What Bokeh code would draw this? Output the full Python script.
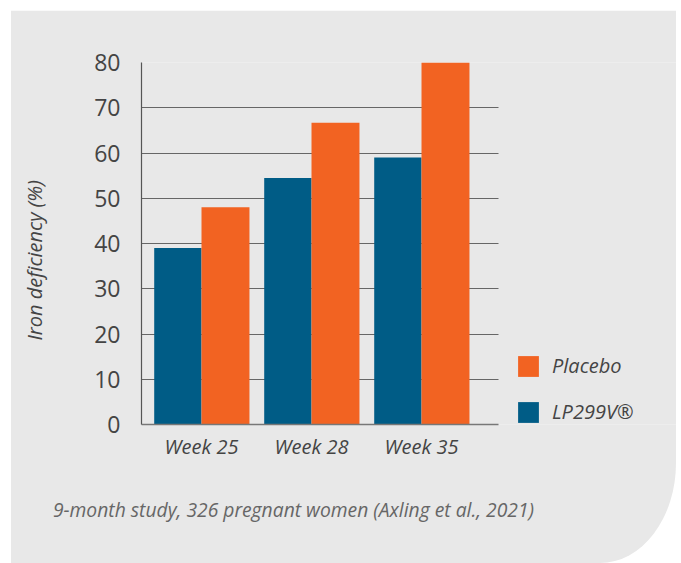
from bokeh.plotting import figure
from bokeh.models import (ColumnDataSource, Range1d, FixedTicker, Legend, LegendItem,
                          LinearAxis, Grid)
from bokeh.transform import dodge
from bokeh.embed import file_html
from bokeh.resources import INLINE
import math

# ---- data ----
weeks = ["Week 25", "Week 28", "Week 35"]
lp299v = [39, 54.5, 59]
placebo = [48, 66.7, 80]
y_ticks = [0, 10, 20, 30, 40, 50, 60, 70, 80]
series_names = ["Placebo", "LP299V®"]
y_label = "Iron deficiency (%)"
caption = "9-month study, 326 pregnant women (Axling et al., 2021)"

BLUE = "#005C86"
ORANGE = "#F26322"
BG = "#E8E8E8"
TXT = "#444444"
FONT = "Open Sans"

X_START, X_AXIS_END, X_END = 0.4545, 3.7, 5.318

xpos = list(range(1, len(weeks) + 1))
src = ColumnDataSource(dict(x=xpos, lp=lp299v, pl=placebo))

p = figure(width=673, height=553, output_backend="svg", toolbar_location=None,
           x_range=Range1d(X_START, X_END), y_range=Range1d(0, 80),
           min_border_left=138, min_border_right=0, min_border_top=52,
           min_border_bottom=139)
p.styles = {"position": "relative", "left": "3px", "top": "10px",
            "border-bottom-right-radius": "76px 100px", "overflow": "hidden",
            "clip-path": "inset(0px 0px 0px 8px)"}
p.background_fill_color = BG
p.border_fill_color = BG
p.outline_line_color = None

# horizontal grid lines, limited to the chart part of the frame
grid_ticks = y_ticks[1:-1]
p.xgrid.grid_line_color = None
if "cross_bounds" in Grid.properties():
    p.ygrid.ticker = FixedTicker(ticks=grid_ticks)
    p.ygrid.cross_bounds = (X_START, X_AXIS_END)
    p.ygrid.grid_line_color = "#666666"
    p.ygrid.grid_line_width = 1.2
else:
    p.ygrid.grid_line_color = None
    p.segment(x0=X_START, x1=X_AXIS_END, y0=grid_ticks, y1=grid_ticks,
              line_color="#666666", line_width=1.2)

r_lp = p.vbar(x=dodge("x", -0.215, range=p.x_range), top="lp", width=0.43,
              source=src, fill_color=BLUE, line_color=None)
r_pl = p.vbar(x=dodge("x", 0.218, range=p.x_range), top="pl", width=0.436,
              source=src, fill_color=ORANGE, line_color=None)

# axes
for ax in (p.xaxis[0], p.yaxis[0]):
    ax.major_tick_out = 0
    ax.major_tick_in = 0
    ax.minor_tick_out = 0
    ax.minor_tick_in = 0
    ax.major_tick_line_color = None
    ax.minor_tick_line_color = None

p.xaxis.ticker = FixedTicker(ticks=xpos)
p.xaxis.bounds = (X_START, X_AXIS_END)
p.xaxis.major_label_overrides = {i: w for i, w in zip(xpos, weeks)}
p.xaxis.major_label_text_font = FONT
p.xaxis.major_label_text_font_style = "italic"
p.xaxis.major_label_text_font_size = "20px"
p.xaxis.major_label_text_color = TXT
p.xaxis.major_label_standoff = 8
p.xaxis.axis_line_color = "#777777"
p.xaxis.axis_line_width = 1.5

p.yaxis.ticker = FixedTicker(ticks=y_ticks)
p.yaxis.major_label_text_font = FONT
p.yaxis.major_label_text_font_size = "23px"
p.yaxis.major_label_text_color = TXT
p.yaxis.major_label_standoff = 21
p.yaxis.axis_line_color = "#555555"
p.yaxis.axis_line_width = 1.2

# y label: a single rotated tick label on an extra, line-less axis
ylab_at = 54
ylab_axis = LinearAxis(ticker=FixedTicker(ticks=[ylab_at]),
                       major_label_overrides={ylab_at: y_label},
                       major_label_orientation=math.pi / 2,
                       major_label_standoff=57,
                       major_label_text_font=FONT,
                       major_label_text_font_style="italic",
                       major_label_text_font_size="20px",
                       major_label_text_color=TXT,
                       axis_line_color=None, major_tick_line_color=None,
                       minor_tick_line_color=None, major_tick_out=0,
                       minor_tick_out=0, major_tick_in=0, minor_tick_in=0)
p.add_layout(ylab_axis, "left")

# caption: a single tick label on an extra, line-less axis below
cap_at = 1.836
cap_axis = LinearAxis(ticker=FixedTicker(ticks=[cap_at]),
                      major_label_overrides={cap_at: caption},
                      major_label_standoff=33,
                      major_label_text_font=FONT,
                      major_label_text_font_style="italic",
                      major_label_text_font_size="19.3px",
                      major_label_text_color="#666666",
                      axis_line_color=None, major_tick_line_color=None,
                      minor_tick_line_color=None, major_tick_out=0,
                      minor_tick_out=0, major_tick_in=0, minor_tick_in=0)
p.add_layout(cap_axis, "below")

legend = Legend(items=[LegendItem(label=series_names[0], renderers=[r_pl]),
                       LegendItem(label=series_names[1], renderers=[r_lp])],
                location=(374, -1), orientation="vertical")
legend.glyph_width = 26
legend.glyph_height = 26
legend.spacing = 19
legend.padding = 0
legend.margin = 0
legend.label_standoff = 11
legend.label_text_font = FONT
legend.label_text_font_style = "italic"
legend.label_text_font_size = "20px"
legend.label_text_color = TXT
legend.border_line_color = None
legend.background_fill_alpha = 0
p.add_layout(legend, "center")

open("out.html", "w").write(file_html(p, INLINE))
